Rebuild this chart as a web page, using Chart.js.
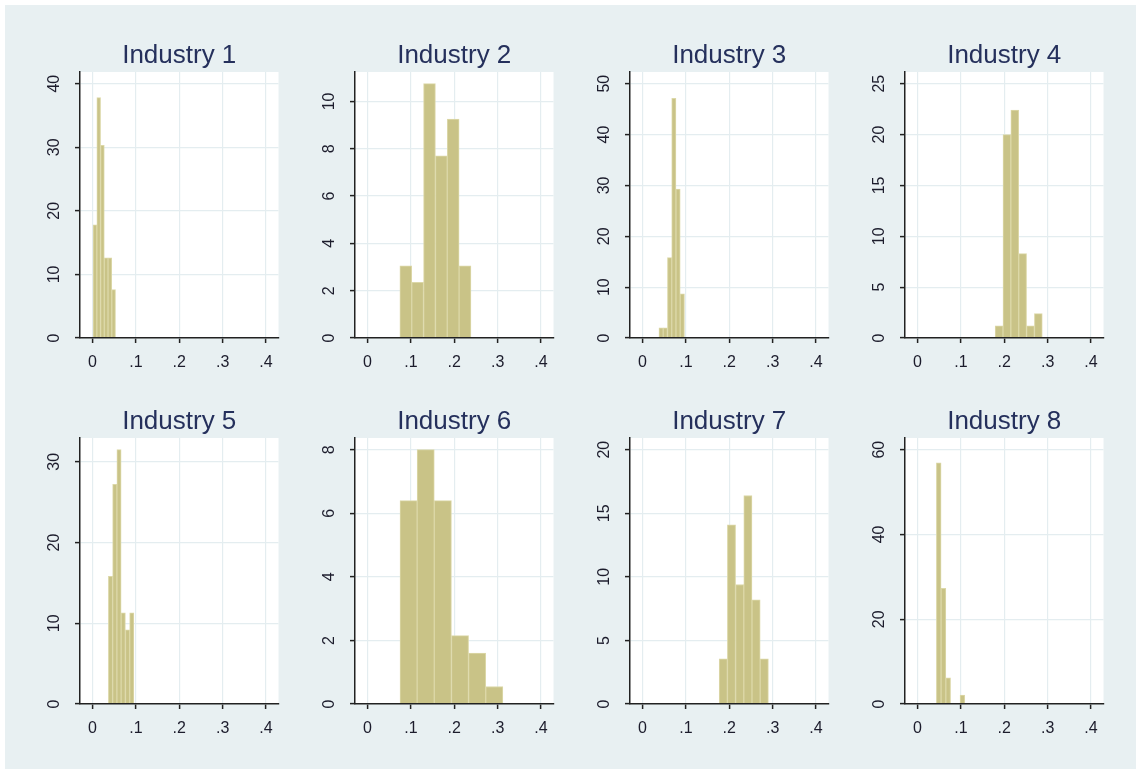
<!DOCTYPE html>
<html>
<head>
<meta charset="utf-8">
<title>Industry histograms</title>
<script src="https://cdn.jsdelivr.net/npm/chart.js@4.4.0/dist/chart.umd.min.js"></script>
<style>
  html, body { margin: 0; padding: 0; background: #ffffff; }
  #frame { position: absolute; left: 5px; top: 5px; width: 1131px; height: 764px; background: #e8f0f2; }
  canvas.panel { position: absolute; }
</style>
</head>
<body>
<div id="frame"></div>
<script>
// ---- data ---------------------------------------------------------------
const industries = ['Industry 1', 'Industry 2', 'Industry 3', 'Industry 4',
                    'Industry 5', 'Industry 6', 'Industry 7', 'Industry 8'];

// lower edge of the first bin and the bin width of each histogram
const binStart = [0.0015, 0.0747, 0.0380, 0.1790, 0.0367, 0.0750, 0.1768, 0.0436];
const binWidth = [0.0086, 0.0273, 0.0098, 0.0181, 0.0098, 0.0395, 0.0189, 0.0109];

// density of each bin
const density1 = [17.8, 37.8, 30.3, 12.6, 12.6, 7.6];
const density2 = [3.05, 2.35, 10.75, 7.7, 9.25, 3.05];
const density3 = [2.0, 2.0, 15.8, 47.1, 29.3, 8.7];
const density4 = [1.2, 20.0, 22.4, 8.3, 1.2, 2.4];
const density5 = [15.8, 27.2, 31.5, 11.3, 9.2, 11.3];
const density6 = [6.4, 8.0, 6.4, 2.15, 1.6, 0.55];
const density7 = [3.55, 14.1, 9.4, 16.4, 8.2, 3.55];
const density8 = [56.9, 27.3, 6.2, 0, 0, 2.1];
const densities = [density1, density2, density3, density4, density5, density6, density7, density8];

// axis ticks
const xTickValues = [0, 0.1, 0.2, 0.3, 0.4];
const xTickLabels = ['0', '.1', '.2', '.3', '.4'];
const yTicks1 = [0, 10, 20, 30, 40];
const yTicks2 = [0, 2, 4, 6, 8, 10];
const yTicks3 = [0, 10, 20, 30, 40, 50];
const yTicks4 = [0, 5, 10, 15, 20, 25];
const yTicks5 = [0, 10, 20, 30];
const yTicks6 = [0, 2, 4, 6, 8];
const yTicks7 = [0, 5, 10, 15, 20];
const yTicks8 = [0, 20, 40, 60];
const yTicks = [yTicks1, yTicks2, yTicks3, yTicks4, yTicks5, yTicks6, yTicks7, yTicks8];

// ---- look ---------------------------------------------------------------
const FONT = "'Liberation Sans', Arial, sans-serif";
const TITLE_COLOR = '#25305c';
const TICK_COLOR = '#1c1c2c';
const AXIS_COLOR = '#222222';
const GRID_COLOR = '#e4edf0';
const BAR_FILL = '#c9c387';
const BAR_EDGE = '#dcd8a8';

const PLOT_W = 199, PLOT_H = 266;
const AXIS_W = 50, AXIS_H = 45, TITLE_H = 36, RIGHT_PAD = 4;
const colLeft = [80, 354.5, 630, 905];
const rowTop = [72, 438];

// y tick labels, drawn rotated beside the axis
const rotatedYLabels = {
  id: 'rotatedYLabels',
  afterDraw(chart) {
    const sc = chart.scales.y;
    const ctx = chart.ctx;
    ctx.save();
    ctx.font = '16px ' + FONT;
    ctx.fillStyle = TICK_COLOR;
    ctx.textAlign = 'center';
    ctx.textBaseline = 'middle';
    sc.ticks.forEach(t => {
      const y = sc.getPixelForValue(t.value);
      ctx.save();
      ctx.translate(sc.right - 25, y);
      ctx.rotate(-Math.PI / 2);
      ctx.fillText(String(t.value), 0, 0);
      ctx.restore();
    });
    ctx.restore();
  }
};

// white plot region
const plotBackground = {
  id: 'plotBackground',
  beforeDraw(chart) {
    const a = chart.chartArea;
    const ctx = chart.ctx;
    ctx.save();
    ctx.fillStyle = '#ffffff';
    ctx.fillRect(a.left, a.top, a.right - a.left, a.bottom - a.top);
    ctx.restore();
  }
};

const frame = document.getElementById('frame');

industries.forEach((name, i) => {
  const col = i % 4, row = Math.floor(i / 4);
  const canvas = document.createElement('canvas');
  canvas.className = 'panel';
  canvas.width = AXIS_W + PLOT_W + RIGHT_PAD;
  canvas.height = TITLE_H + PLOT_H + AXIS_H;
  canvas.style.left = (colLeft[col] - AXIS_W - 5) + 'px';
  canvas.style.top = (rowTop[row] - TITLE_H - 5) + 'px';
  frame.appendChild(canvas);

  const d = densities[i];
  const points = d.map((v, k) => ({ x: binStart[i] + (k + 0.5) * binWidth[i], y: v }));
  const ticksY = yTicks[i];
  const yTop = Math.max(ticksY[ticksY.length - 1], Math.max(...d)) / 0.956;

  new Chart(canvas, {
    type: 'bar',
    data: {
      datasets: [{
        data: points,
        backgroundColor: BAR_FILL,
        borderColor: BAR_EDGE,
        borderWidth: 1,
        categoryPercentage: 1,
        barPercentage: 1
      }]
    },
    options: {
      responsive: false,
      animation: false,
      events: [],
      layout: { padding: { left: 0, right: RIGHT_PAD, top: 0, bottom: 0 } },
      plugins: {
        legend: { display: false },
        tooltip: { enabled: false },
        title: {
          display: true,
          text: name,
          fullSize: false,
          color: TITLE_COLOR,
          font: { family: FONT, size: 26, weight: 'normal' },
          padding: { top: 4.4, bottom: 0.4 }
        }
      },
      scales: {
        x: {
          type: 'linear',
          offset: false,
          min: -0.0287,
          max: 0.4287,
          afterBuildTicks: s => { s.ticks = xTickValues.map(v => ({ value: v })); },
          afterFit: s => { s.height = AXIS_H; },
          grid: { offset: false, color: GRID_COLOR, lineWidth: 1.2, tickColor: AXIS_COLOR, tickLength: 5, tickWidth: 1.5 },
          border: { color: AXIS_COLOR, width: 1.5, z: 1 },
          ticks: {
            padding: 10,
            color: TICK_COLOR,
            font: { family: FONT, size: 16 },
            maxRotation: 0,
            minRotation: 0,
            autoSkip: false,
            callback: (v, k) => xTickLabels[k]
          }
        },
        y: {
          type: 'linear',
          min: 0,
          max: yTop,
          afterBuildTicks: s => { s.ticks = ticksY.map(v => ({ value: v })); },
          afterFit: s => { s.width = AXIS_W; },
          grid: { color: GRID_COLOR, lineWidth: 1.2, tickColor: AXIS_COLOR, tickLength: 5, tickWidth: 1.5 },
          border: { color: AXIS_COLOR, width: 1.5, z: 1 },
          ticks: { display: false }
        }
      }
    },
    plugins: [plotBackground, rotatedYLabels]
  });
});
</script>
</body>
</html>
